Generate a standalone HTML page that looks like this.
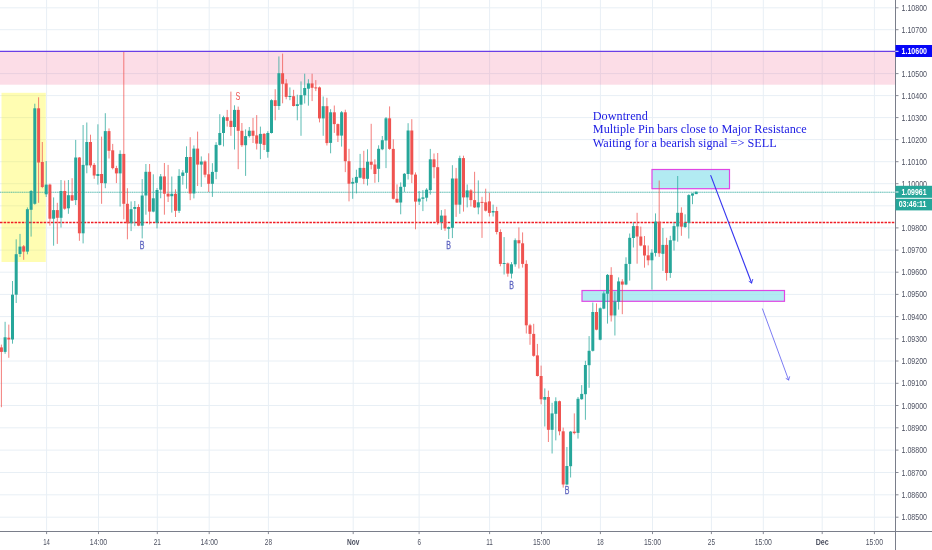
<!DOCTYPE html>
<html><head><meta charset="utf-8"><title>chart</title>
<style>html,body{margin:0;padding:0;background:#fff;overflow:hidden}svg{display:block;will-change:transform;opacity:0.9999}text{font-family:"Liberation Sans",sans-serif}</style></head><body>
<svg width="932" height="550" viewBox="0 0 932 550">
<rect width="932" height="550" fill="#ffffff"/>
<g stroke="#e8eff5" stroke-width="1">
<line x1="0" y1="7.8" x2="894.5" y2="7.8"/>
<line x1="0" y1="29.7" x2="894.5" y2="29.7"/>
<line x1="0" y1="51.6" x2="894.5" y2="51.6"/>
<line x1="0" y1="73.6" x2="894.5" y2="73.6"/>
<line x1="0" y1="95.6" x2="894.5" y2="95.6"/>
<line x1="0" y1="117.6" x2="894.5" y2="117.6"/>
<line x1="0" y1="139.6" x2="894.5" y2="139.6"/>
<line x1="0" y1="161.7" x2="894.5" y2="161.7"/>
<line x1="0" y1="183.7" x2="894.5" y2="183.7"/>
<line x1="0" y1="205.8" x2="894.5" y2="205.8"/>
<line x1="0" y1="227.9" x2="894.5" y2="227.9"/>
<line x1="0" y1="250.1" x2="894.5" y2="250.1"/>
<line x1="0" y1="272.2" x2="894.5" y2="272.2"/>
<line x1="0" y1="294.4" x2="894.5" y2="294.4"/>
<line x1="0" y1="316.6" x2="894.5" y2="316.6"/>
<line x1="0" y1="338.8" x2="894.5" y2="338.8"/>
<line x1="0" y1="361.0" x2="894.5" y2="361.0"/>
<line x1="0" y1="383.3" x2="894.5" y2="383.3"/>
<line x1="0" y1="405.5" x2="894.5" y2="405.5"/>
<line x1="0" y1="427.8" x2="894.5" y2="427.8"/>
<line x1="0" y1="450.1" x2="894.5" y2="450.1"/>
<line x1="0" y1="472.5" x2="894.5" y2="472.5"/>
<line x1="0" y1="494.8" x2="894.5" y2="494.8"/>
<line x1="0" y1="517.2" x2="894.5" y2="517.2"/>
<line x1="46.6" y1="0" x2="46.6" y2="530.5"/>
<line x1="98.5" y1="0" x2="98.5" y2="530.5"/>
<line x1="157.3" y1="0" x2="157.3" y2="530.5"/>
<line x1="209.2" y1="0" x2="209.2" y2="530.5"/>
<line x1="268.4" y1="0" x2="268.4" y2="530.5"/>
<line x1="353.2" y1="0" x2="353.2" y2="530.5"/>
<line x1="419.1" y1="0" x2="419.1" y2="530.5"/>
<line x1="489.6" y1="0" x2="489.6" y2="530.5"/>
<line x1="541.5" y1="0" x2="541.5" y2="530.5"/>
<line x1="600.4" y1="0" x2="600.4" y2="530.5"/>
<line x1="652.5" y1="0" x2="652.5" y2="530.5"/>
<line x1="711.4" y1="0" x2="711.4" y2="530.5"/>
<line x1="763.3" y1="0" x2="763.3" y2="530.5"/>
<line x1="822.2" y1="0" x2="822.2" y2="530.5"/>
<line x1="874.4" y1="0" x2="874.4" y2="530.5"/>
</g>
<rect x="0" y="51.5" width="895" height="33.2" fill="rgb(240,98,146)" fill-opacity="0.22"/>
<rect x="1.5" y="92.8" width="44.3" height="169.2" fill="rgb(255,248,0)" fill-opacity="0.30"/>
<rect x="652" y="169.5" width="77.5" height="19.2" fill="rgb(159,230,239)" fill-opacity="0.8" stroke="#e046e4" stroke-width="1.2"/>
<rect x="582" y="290.5" width="202.5" height="10.8" fill="rgb(159,230,239)" fill-opacity="0.8" stroke="#e046e4" stroke-width="1.2"/>
<line x1="0" y1="51.3" x2="895" y2="51.3" stroke="#6a3fe6" stroke-width="1.3"/>
<line x1="0" y1="192.3" x2="895" y2="192.3" stroke="#26a69a" stroke-width="1.1" opacity="0.38"/>
<line x1="0" y1="192.3" x2="895" y2="192.3" stroke="#26a69a" stroke-width="1.1" stroke-dasharray="1 1.2" opacity="0.5"/>
<line x1="0" y1="222.5" x2="895" y2="222.5" stroke="#f01c24" stroke-width="1.65" stroke-dasharray="2.5 1.14"/>
<g id="candles">
<line x1="1.4" y1="344.6" x2="1.4" y2="407.2" stroke="#ef5350" stroke-width="1" opacity="0.75"/>
<rect x="-0.1" y="347.4" width="3" height="4.5" fill="#ef5350"/>
<line x1="5.1" y1="321.8" x2="5.1" y2="353.8" stroke="#26a69a" stroke-width="1" opacity="0.75"/>
<rect x="3.6" y="337.3" width="3" height="14.6" fill="#26a69a"/>
<line x1="8.8" y1="324.6" x2="8.8" y2="357.8" stroke="#ef5350" stroke-width="1" opacity="0.75"/>
<rect x="7.3" y="337.7" width="3" height="1.8" fill="#ef5350"/>
<line x1="12.5" y1="281.0" x2="12.5" y2="343.7" stroke="#26a69a" stroke-width="1" opacity="0.75"/>
<rect x="11.0" y="294.7" width="3" height="44.8" fill="#26a69a"/>
<line x1="16.2" y1="239.3" x2="16.2" y2="303.0" stroke="#26a69a" stroke-width="1" opacity="0.75"/>
<rect x="14.7" y="254.2" width="3" height="40.5" fill="#26a69a"/>
<line x1="20.0" y1="233.9" x2="20.0" y2="257.0" stroke="#26a69a" stroke-width="1" opacity="0.75"/>
<rect x="18.5" y="246.6" width="3" height="7.4" fill="#26a69a"/>
<line x1="23.7" y1="245.0" x2="23.7" y2="259.8" stroke="#ef5350" stroke-width="1" opacity="0.75"/>
<rect x="22.2" y="246.3" width="3" height="5.3" fill="#ef5350"/>
<line x1="27.4" y1="207.4" x2="27.4" y2="254.3" stroke="#26a69a" stroke-width="1" opacity="0.75"/>
<rect x="25.9" y="209.2" width="3" height="42.4" fill="#26a69a"/>
<line x1="31.1" y1="190.0" x2="31.1" y2="236.6" stroke="#26a69a" stroke-width="1" opacity="0.75"/>
<rect x="29.6" y="191.0" width="3" height="18.8" fill="#26a69a"/>
<line x1="34.8" y1="103.7" x2="34.8" y2="204.7" stroke="#26a69a" stroke-width="1" opacity="0.75"/>
<rect x="33.3" y="108.3" width="3" height="95.5" fill="#26a69a"/>
<line x1="38.6" y1="97.3" x2="38.6" y2="202.8" stroke="#ef5350" stroke-width="1" opacity="0.75"/>
<rect x="37.1" y="108.3" width="3" height="54.2" fill="#ef5350"/>
<line x1="42.3" y1="142.0" x2="42.3" y2="188.2" stroke="#ef5350" stroke-width="1" opacity="0.75"/>
<rect x="40.8" y="162.0" width="3" height="25.0" fill="#ef5350"/>
<line x1="46.2" y1="161.0" x2="46.2" y2="197.0" stroke="#26a69a" stroke-width="1" opacity="0.75"/>
<rect x="44.7" y="184.6" width="3" height="9.7" fill="#26a69a"/>
<line x1="49.9" y1="183.7" x2="49.9" y2="225.7" stroke="#ef5350" stroke-width="1" opacity="0.75"/>
<rect x="48.4" y="184.6" width="3" height="34.1" fill="#ef5350"/>
<line x1="53.6" y1="197.4" x2="53.6" y2="245.7" stroke="#26a69a" stroke-width="1" opacity="0.75"/>
<rect x="52.1" y="210.1" width="3" height="8.6" fill="#26a69a"/>
<line x1="57.3" y1="202.8" x2="57.3" y2="243.9" stroke="#ef5350" stroke-width="1" opacity="0.75"/>
<rect x="55.8" y="210.1" width="3" height="7.7" fill="#ef5350"/>
<line x1="61.0" y1="180.0" x2="61.0" y2="227.5" stroke="#26a69a" stroke-width="1" opacity="0.75"/>
<rect x="59.5" y="191.0" width="3" height="26.8" fill="#26a69a"/>
<line x1="64.7" y1="180.6" x2="64.7" y2="209.8" stroke="#ef5350" stroke-width="1" opacity="0.75"/>
<rect x="63.2" y="191.0" width="3" height="17.7" fill="#ef5350"/>
<line x1="68.4" y1="180.0" x2="68.4" y2="213.8" stroke="#26a69a" stroke-width="1" opacity="0.75"/>
<rect x="66.9" y="195.2" width="3" height="13.1" fill="#26a69a"/>
<line x1="72.1" y1="178.2" x2="72.1" y2="201.0" stroke="#ef5350" stroke-width="1" opacity="0.75"/>
<rect x="70.6" y="195.2" width="3" height="5.3" fill="#ef5350"/>
<line x1="75.7" y1="139.9" x2="75.7" y2="205.0" stroke="#26a69a" stroke-width="1" opacity="0.75"/>
<rect x="74.2" y="157.5" width="3" height="42.6" fill="#26a69a"/>
<line x1="79.4" y1="157.0" x2="79.4" y2="240.8" stroke="#ef5350" stroke-width="1" opacity="0.75"/>
<rect x="77.9" y="157.5" width="3" height="75.8" fill="#ef5350"/>
<line x1="83.1" y1="125.0" x2="83.1" y2="243.4" stroke="#26a69a" stroke-width="1" opacity="0.75"/>
<rect x="81.6" y="164.9" width="3" height="68.4" fill="#26a69a"/>
<line x1="86.8" y1="122.5" x2="86.8" y2="173.3" stroke="#26a69a" stroke-width="1" opacity="0.75"/>
<rect x="85.3" y="142.0" width="3" height="23.4" fill="#26a69a"/>
<line x1="90.5" y1="134.7" x2="90.5" y2="167.6" stroke="#ef5350" stroke-width="1" opacity="0.75"/>
<rect x="89.0" y="142.0" width="3" height="23.4" fill="#ef5350"/>
<line x1="94.2" y1="163.0" x2="94.2" y2="178.8" stroke="#ef5350" stroke-width="1" opacity="0.75"/>
<rect x="92.7" y="164.9" width="3" height="10.6" fill="#ef5350"/>
<line x1="97.9" y1="124.3" x2="97.9" y2="184.6" stroke="#26a69a" stroke-width="1" opacity="0.75"/>
<rect x="96.4" y="174.0" width="3" height="2.0" fill="#26a69a"/>
<line x1="101.6" y1="136.6" x2="101.6" y2="203.8" stroke="#ef5350" stroke-width="1" opacity="0.75"/>
<rect x="100.1" y="174.0" width="3" height="9.1" fill="#ef5350"/>
<line x1="105.3" y1="113.2" x2="105.3" y2="188.2" stroke="#26a69a" stroke-width="1" opacity="0.75"/>
<rect x="103.8" y="131.1" width="3" height="52.2" fill="#26a69a"/>
<line x1="109.0" y1="128.4" x2="109.0" y2="158.5" stroke="#ef5350" stroke-width="1" opacity="0.75"/>
<rect x="107.5" y="131.1" width="3" height="19.7" fill="#ef5350"/>
<line x1="112.7" y1="143.9" x2="112.7" y2="169.4" stroke="#ef5350" stroke-width="1" opacity="0.75"/>
<rect x="111.2" y="150.3" width="3" height="17.8" fill="#ef5350"/>
<line x1="116.4" y1="165.8" x2="116.4" y2="183.1" stroke="#ef5350" stroke-width="1" opacity="0.75"/>
<rect x="114.9" y="168.1" width="3" height="5.3" fill="#ef5350"/>
<line x1="120.1" y1="150.3" x2="120.1" y2="206.5" stroke="#26a69a" stroke-width="1" opacity="0.75"/>
<rect x="118.6" y="153.9" width="3" height="19.5" fill="#26a69a"/>
<line x1="123.8" y1="52.0" x2="123.8" y2="219.3" stroke="#ef5350" stroke-width="1" opacity="0.75"/>
<rect x="122.3" y="153.9" width="3" height="49.9" fill="#ef5350"/>
<line x1="127.4" y1="188.2" x2="127.4" y2="239.3" stroke="#ef5350" stroke-width="1" opacity="0.75"/>
<rect x="125.9" y="203.8" width="3" height="19.5" fill="#ef5350"/>
<line x1="131.1" y1="201.4" x2="131.1" y2="231.1" stroke="#26a69a" stroke-width="1" opacity="0.75"/>
<rect x="129.6" y="209.2" width="3" height="14.1" fill="#26a69a"/>
<line x1="134.8" y1="201.0" x2="134.8" y2="226.2" stroke="#26a69a" stroke-width="1" opacity="0.75"/>
<rect x="133.3" y="207.0" width="3" height="1.9" fill="#26a69a"/>
<line x1="138.5" y1="204.3" x2="138.5" y2="226.2" stroke="#ef5350" stroke-width="1" opacity="0.75"/>
<rect x="137.0" y="207.0" width="3" height="18.7" fill="#ef5350"/>
<line x1="142.2" y1="179.1" x2="142.2" y2="238.4" stroke="#26a69a" stroke-width="1" opacity="0.75"/>
<rect x="140.7" y="195.5" width="3" height="30.2" fill="#26a69a"/>
<line x1="145.9" y1="164.0" x2="145.9" y2="214.7" stroke="#26a69a" stroke-width="1" opacity="0.75"/>
<rect x="144.4" y="171.8" width="3" height="23.7" fill="#26a69a"/>
<line x1="149.6" y1="164.0" x2="149.6" y2="224.4" stroke="#ef5350" stroke-width="1" opacity="0.75"/>
<rect x="148.1" y="171.8" width="3" height="39.8" fill="#ef5350"/>
<line x1="153.3" y1="174.3" x2="153.3" y2="212.3" stroke="#26a69a" stroke-width="1" opacity="0.75"/>
<rect x="151.8" y="198.3" width="3" height="13.3" fill="#26a69a"/>
<line x1="157.0" y1="188.0" x2="157.0" y2="228.4" stroke="#26a69a" stroke-width="1" opacity="0.75"/>
<rect x="155.5" y="190.0" width="3" height="32.9" fill="#26a69a"/>
<line x1="160.7" y1="174.0" x2="160.7" y2="198.3" stroke="#26a69a" stroke-width="1" opacity="0.75"/>
<rect x="159.2" y="176.4" width="3" height="13.3" fill="#26a69a"/>
<line x1="164.4" y1="163.0" x2="164.4" y2="214.7" stroke="#ef5350" stroke-width="1" opacity="0.75"/>
<rect x="162.9" y="176.4" width="3" height="17.3" fill="#ef5350"/>
<line x1="168.1" y1="164.9" x2="168.1" y2="202.0" stroke="#ef5350" stroke-width="1" opacity="0.75"/>
<rect x="166.6" y="193.7" width="3" height="2.8" fill="#ef5350"/>
<line x1="171.8" y1="176.5" x2="171.8" y2="212.6" stroke="#26a69a" stroke-width="1" opacity="0.75"/>
<rect x="170.3" y="193.8" width="3" height="2.4" fill="#26a69a"/>
<line x1="175.5" y1="189.3" x2="175.5" y2="217.0" stroke="#ef5350" stroke-width="1" opacity="0.75"/>
<rect x="174.0" y="193.8" width="3" height="17.0" fill="#ef5350"/>
<line x1="179.1" y1="169.2" x2="179.1" y2="213.0" stroke="#26a69a" stroke-width="1" opacity="0.75"/>
<rect x="177.6" y="175.9" width="3" height="34.9" fill="#26a69a"/>
<line x1="182.8" y1="170.1" x2="182.8" y2="184.7" stroke="#26a69a" stroke-width="1" opacity="0.75"/>
<rect x="181.3" y="172.5" width="3" height="3.4" fill="#26a69a"/>
<line x1="186.5" y1="146.3" x2="186.5" y2="188.7" stroke="#26a69a" stroke-width="1" opacity="0.75"/>
<rect x="185.0" y="157.0" width="3" height="15.8" fill="#26a69a"/>
<line x1="190.2" y1="137.2" x2="190.2" y2="200.2" stroke="#ef5350" stroke-width="1" opacity="0.75"/>
<rect x="188.7" y="157.0" width="3" height="36.5" fill="#ef5350"/>
<line x1="193.9" y1="145.4" x2="193.9" y2="198.4" stroke="#26a69a" stroke-width="1" opacity="0.75"/>
<rect x="192.4" y="148.6" width="3" height="44.9" fill="#26a69a"/>
<line x1="197.6" y1="131.6" x2="197.6" y2="186.0" stroke="#ef5350" stroke-width="1" opacity="0.75"/>
<rect x="196.1" y="148.6" width="3" height="16.0" fill="#ef5350"/>
<line x1="201.3" y1="156.4" x2="201.3" y2="186.9" stroke="#26a69a" stroke-width="1" opacity="0.75"/>
<rect x="199.8" y="161.5" width="3" height="3.1" fill="#26a69a"/>
<line x1="205.0" y1="160.4" x2="205.0" y2="177.4" stroke="#ef5350" stroke-width="1" opacity="0.75"/>
<rect x="203.5" y="161.5" width="3" height="13.2" fill="#ef5350"/>
<line x1="208.7" y1="153.3" x2="208.7" y2="192.0" stroke="#ef5350" stroke-width="1" opacity="0.75"/>
<rect x="207.2" y="174.3" width="3" height="9.5" fill="#ef5350"/>
<line x1="212.4" y1="163.2" x2="212.4" y2="196.9" stroke="#26a69a" stroke-width="1" opacity="0.75"/>
<rect x="210.9" y="171.9" width="3" height="11.9" fill="#26a69a"/>
<line x1="216.1" y1="142.2" x2="216.1" y2="179.2" stroke="#26a69a" stroke-width="1" opacity="0.75"/>
<rect x="214.6" y="144.9" width="3" height="27.0" fill="#26a69a"/>
<line x1="219.8" y1="114.2" x2="219.8" y2="145.5" stroke="#26a69a" stroke-width="1" opacity="0.75"/>
<rect x="218.3" y="133.0" width="3" height="11.9" fill="#26a69a"/>
<line x1="223.5" y1="115.7" x2="223.5" y2="146.4" stroke="#26a69a" stroke-width="1" opacity="0.75"/>
<rect x="222.0" y="117.2" width="3" height="15.8" fill="#26a69a"/>
<line x1="227.2" y1="109.9" x2="227.2" y2="126.6" stroke="#ef5350" stroke-width="1" opacity="0.75"/>
<rect x="225.7" y="117.2" width="3" height="3.6" fill="#ef5350"/>
<line x1="230.9" y1="91.6" x2="230.9" y2="135.8" stroke="#ef5350" stroke-width="1" opacity="0.75"/>
<rect x="229.4" y="120.8" width="3" height="6.2" fill="#ef5350"/>
<line x1="234.5" y1="105.3" x2="234.5" y2="149.5" stroke="#26a69a" stroke-width="1" opacity="0.75"/>
<rect x="233.0" y="109.9" width="3" height="17.1" fill="#26a69a"/>
<line x1="238.2" y1="106.6" x2="238.2" y2="169.2" stroke="#ef5350" stroke-width="1" opacity="0.75"/>
<rect x="236.7" y="109.9" width="3" height="20.9" fill="#ef5350"/>
<line x1="241.9" y1="123.0" x2="241.9" y2="146.9" stroke="#ef5350" stroke-width="1" opacity="0.75"/>
<rect x="240.4" y="130.8" width="3" height="14.4" fill="#ef5350"/>
<line x1="245.6" y1="129.4" x2="245.6" y2="175.9" stroke="#26a69a" stroke-width="1" opacity="0.75"/>
<rect x="244.1" y="136.1" width="3" height="9.1" fill="#26a69a"/>
<line x1="249.3" y1="127.0" x2="249.3" y2="137.6" stroke="#26a69a" stroke-width="1" opacity="0.75"/>
<rect x="247.8" y="130.7" width="3" height="5.4" fill="#26a69a"/>
<line x1="253.0" y1="117.9" x2="253.0" y2="143.0" stroke="#ef5350" stroke-width="1" opacity="0.75"/>
<rect x="251.5" y="130.7" width="3" height="5.1" fill="#ef5350"/>
<line x1="256.7" y1="115.1" x2="256.7" y2="149.5" stroke="#ef5350" stroke-width="1" opacity="0.75"/>
<rect x="255.2" y="135.4" width="3" height="8.2" fill="#ef5350"/>
<line x1="260.4" y1="126.6" x2="260.4" y2="159.2" stroke="#26a69a" stroke-width="1" opacity="0.75"/>
<rect x="258.9" y="133.9" width="3" height="9.9" fill="#26a69a"/>
<line x1="264.1" y1="133.0" x2="264.1" y2="150.0" stroke="#ef5350" stroke-width="1" opacity="0.75"/>
<rect x="262.6" y="133.9" width="3" height="11.0" fill="#ef5350"/>
<line x1="267.8" y1="131.2" x2="267.8" y2="157.7" stroke="#26a69a" stroke-width="1" opacity="0.75"/>
<rect x="266.3" y="133.0" width="3" height="18.9" fill="#26a69a"/>
<line x1="271.5" y1="99.3" x2="271.5" y2="133.5" stroke="#26a69a" stroke-width="1" opacity="0.75"/>
<rect x="270.0" y="100.2" width="3" height="32.8" fill="#26a69a"/>
<line x1="275.2" y1="89.2" x2="275.2" y2="120.3" stroke="#ef5350" stroke-width="1" opacity="0.75"/>
<rect x="273.7" y="100.2" width="3" height="5.8" fill="#ef5350"/>
<line x1="278.9" y1="56.4" x2="278.9" y2="109.9" stroke="#26a69a" stroke-width="1" opacity="0.75"/>
<rect x="277.4" y="73.2" width="3" height="32.8" fill="#26a69a"/>
<line x1="282.6" y1="53.6" x2="282.6" y2="103.3" stroke="#ef5350" stroke-width="1" opacity="0.75"/>
<rect x="281.1" y="73.2" width="3" height="10.6" fill="#ef5350"/>
<line x1="286.2" y1="79.2" x2="286.2" y2="99.3" stroke="#ef5350" stroke-width="1" opacity="0.75"/>
<rect x="284.7" y="83.4" width="3" height="13.5" fill="#ef5350"/>
<line x1="289.9" y1="87.4" x2="289.9" y2="100.2" stroke="#26a69a" stroke-width="1" opacity="0.75"/>
<rect x="288.4" y="96.0" width="3" height="1.0" fill="#26a69a"/>
<line x1="293.6" y1="89.8" x2="293.6" y2="106.5" stroke="#ef5350" stroke-width="1" opacity="0.75"/>
<rect x="292.1" y="96.2" width="3" height="9.8" fill="#ef5350"/>
<line x1="297.3" y1="94.7" x2="297.3" y2="120.3" stroke="#26a69a" stroke-width="1" opacity="0.75"/>
<rect x="295.8" y="104.2" width="3" height="1.8" fill="#26a69a"/>
<line x1="301.0" y1="81.4" x2="301.0" y2="135.8" stroke="#26a69a" stroke-width="1" opacity="0.75"/>
<rect x="299.5" y="95.1" width="3" height="9.6" fill="#26a69a"/>
<line x1="304.7" y1="73.7" x2="304.7" y2="103.5" stroke="#26a69a" stroke-width="1" opacity="0.75"/>
<rect x="303.2" y="88.0" width="3" height="7.3" fill="#26a69a"/>
<line x1="308.4" y1="79.2" x2="308.4" y2="105.7" stroke="#26a69a" stroke-width="1" opacity="0.75"/>
<rect x="306.9" y="83.4" width="3" height="5.3" fill="#26a69a"/>
<line x1="312.1" y1="73.7" x2="312.1" y2="101.1" stroke="#ef5350" stroke-width="1" opacity="0.75"/>
<rect x="310.6" y="83.4" width="3" height="4.4" fill="#ef5350"/>
<line x1="315.8" y1="80.1" x2="315.8" y2="91.1" stroke="#ef5350" stroke-width="1" opacity="0.75"/>
<rect x="314.3" y="87.4" width="3" height="1.0" fill="#ef5350"/>
<line x1="319.5" y1="86.5" x2="319.5" y2="122.4" stroke="#ef5350" stroke-width="1" opacity="0.75"/>
<rect x="318.0" y="87.4" width="3" height="31.0" fill="#ef5350"/>
<line x1="323.2" y1="96.5" x2="323.2" y2="135.8" stroke="#26a69a" stroke-width="1" opacity="0.75"/>
<rect x="321.7" y="106.2" width="3" height="12.2" fill="#26a69a"/>
<line x1="326.9" y1="97.8" x2="326.9" y2="145.5" stroke="#ef5350" stroke-width="1" opacity="0.75"/>
<rect x="325.4" y="106.2" width="3" height="36.9" fill="#ef5350"/>
<line x1="330.6" y1="109.2" x2="330.6" y2="153.3" stroke="#26a69a" stroke-width="1" opacity="0.75"/>
<rect x="329.1" y="112.3" width="3" height="30.6" fill="#26a69a"/>
<line x1="334.3" y1="105.5" x2="334.3" y2="132.9" stroke="#ef5350" stroke-width="1" opacity="0.75"/>
<rect x="332.8" y="112.3" width="3" height="11.8" fill="#ef5350"/>
<line x1="337.9" y1="123.5" x2="337.9" y2="142.0" stroke="#ef5350" stroke-width="1" opacity="0.75"/>
<rect x="336.4" y="124.1" width="3" height="11.5" fill="#ef5350"/>
<line x1="341.6" y1="111.0" x2="341.6" y2="146.6" stroke="#26a69a" stroke-width="1" opacity="0.75"/>
<rect x="340.1" y="112.3" width="3" height="23.3" fill="#26a69a"/>
<line x1="345.3" y1="109.7" x2="345.3" y2="172.1" stroke="#ef5350" stroke-width="1" opacity="0.75"/>
<rect x="343.8" y="112.3" width="3" height="48.9" fill="#ef5350"/>
<line x1="349.0" y1="148.8" x2="349.0" y2="201.4" stroke="#ef5350" stroke-width="1" opacity="0.75"/>
<rect x="347.5" y="161.2" width="3" height="22.5" fill="#ef5350"/>
<line x1="352.7" y1="177.8" x2="352.7" y2="198.8" stroke="#26a69a" stroke-width="1" opacity="0.75"/>
<rect x="351.2" y="181.9" width="3" height="1.8" fill="#26a69a"/>
<line x1="356.4" y1="169.7" x2="356.4" y2="193.4" stroke="#26a69a" stroke-width="1" opacity="0.75"/>
<rect x="354.9" y="176.9" width="3" height="5.9" fill="#26a69a"/>
<line x1="360.1" y1="153.9" x2="360.1" y2="178.3" stroke="#26a69a" stroke-width="1" opacity="0.75"/>
<rect x="358.6" y="167.9" width="3" height="9.8" fill="#26a69a"/>
<line x1="363.8" y1="150.8" x2="363.8" y2="184.2" stroke="#ef5350" stroke-width="1" opacity="0.75"/>
<rect x="362.3" y="167.9" width="3" height="10.9" fill="#ef5350"/>
<line x1="367.5" y1="149.3" x2="367.5" y2="185.5" stroke="#26a69a" stroke-width="1" opacity="0.75"/>
<rect x="366.0" y="161.7" width="3" height="17.1" fill="#26a69a"/>
<line x1="371.2" y1="123.8" x2="371.2" y2="169.4" stroke="#ef5350" stroke-width="1" opacity="0.75"/>
<rect x="369.7" y="161.7" width="3" height="3.1" fill="#ef5350"/>
<line x1="374.9" y1="159.3" x2="374.9" y2="182.8" stroke="#ef5350" stroke-width="1" opacity="0.75"/>
<rect x="373.4" y="164.5" width="3" height="9.5" fill="#ef5350"/>
<line x1="378.6" y1="145.3" x2="378.6" y2="182.2" stroke="#26a69a" stroke-width="1" opacity="0.75"/>
<rect x="377.1" y="148.8" width="3" height="20.0" fill="#26a69a"/>
<line x1="382.3" y1="136.0" x2="382.3" y2="150.2" stroke="#26a69a" stroke-width="1" opacity="0.75"/>
<rect x="380.8" y="140.2" width="3" height="9.1" fill="#26a69a"/>
<line x1="386.0" y1="117.0" x2="386.0" y2="168.1" stroke="#26a69a" stroke-width="1" opacity="0.75"/>
<rect x="384.5" y="118.3" width="3" height="22.2" fill="#26a69a"/>
<line x1="389.6" y1="106.4" x2="389.6" y2="149.8" stroke="#ef5350" stroke-width="1" opacity="0.75"/>
<rect x="388.1" y="118.3" width="3" height="30.6" fill="#ef5350"/>
<line x1="393.3" y1="139.3" x2="393.3" y2="199.5" stroke="#ef5350" stroke-width="1" opacity="0.75"/>
<rect x="391.8" y="148.9" width="3" height="49.9" fill="#ef5350"/>
<line x1="397.0" y1="184.4" x2="397.0" y2="203.0" stroke="#ef5350" stroke-width="1" opacity="0.75"/>
<rect x="395.5" y="198.8" width="3" height="3.7" fill="#ef5350"/>
<line x1="400.7" y1="182.4" x2="400.7" y2="214.3" stroke="#26a69a" stroke-width="1" opacity="0.75"/>
<rect x="399.2" y="186.8" width="3" height="15.7" fill="#26a69a"/>
<line x1="404.4" y1="173.0" x2="404.4" y2="191.9" stroke="#26a69a" stroke-width="1" opacity="0.75"/>
<rect x="402.9" y="173.8" width="3" height="13.0" fill="#26a69a"/>
<line x1="408.1" y1="123.2" x2="408.1" y2="179.5" stroke="#26a69a" stroke-width="1" opacity="0.75"/>
<rect x="406.6" y="130.5" width="3" height="43.5" fill="#26a69a"/>
<line x1="411.8" y1="119.2" x2="411.8" y2="183.1" stroke="#ef5350" stroke-width="1" opacity="0.75"/>
<rect x="410.3" y="130.5" width="3" height="44.1" fill="#ef5350"/>
<line x1="415.5" y1="172.4" x2="415.5" y2="229.3" stroke="#ef5350" stroke-width="1" opacity="0.75"/>
<rect x="414.0" y="174.6" width="3" height="27.0" fill="#ef5350"/>
<line x1="419.2" y1="191.0" x2="419.2" y2="205.0" stroke="#26a69a" stroke-width="1" opacity="0.75"/>
<rect x="417.7" y="198.6" width="3" height="3.0" fill="#26a69a"/>
<line x1="422.9" y1="190.1" x2="422.9" y2="211.1" stroke="#26a69a" stroke-width="1" opacity="0.75"/>
<rect x="421.4" y="197.4" width="3" height="1.4" fill="#26a69a"/>
<line x1="426.6" y1="188.2" x2="426.6" y2="201.4" stroke="#26a69a" stroke-width="1" opacity="0.75"/>
<rect x="425.1" y="189.7" width="3" height="8.0" fill="#26a69a"/>
<line x1="430.3" y1="148.9" x2="430.3" y2="194.6" stroke="#26a69a" stroke-width="1" opacity="0.75"/>
<rect x="428.8" y="159.3" width="3" height="30.8" fill="#26a69a"/>
<line x1="434.0" y1="153.5" x2="434.0" y2="178.3" stroke="#ef5350" stroke-width="1" opacity="0.75"/>
<rect x="432.5" y="159.3" width="3" height="7.9" fill="#ef5350"/>
<line x1="437.7" y1="153.0" x2="437.7" y2="224.7" stroke="#ef5350" stroke-width="1" opacity="0.75"/>
<rect x="436.2" y="167.2" width="3" height="54.8" fill="#ef5350"/>
<line x1="441.4" y1="210.1" x2="441.4" y2="229.9" stroke="#26a69a" stroke-width="1" opacity="0.75"/>
<rect x="439.9" y="215.6" width="3" height="6.4" fill="#26a69a"/>
<line x1="445.0" y1="209.2" x2="445.0" y2="230.8" stroke="#ef5350" stroke-width="1" opacity="0.75"/>
<rect x="443.5" y="215.6" width="3" height="12.8" fill="#ef5350"/>
<line x1="448.7" y1="226.5" x2="448.7" y2="239.0" stroke="#26a69a" stroke-width="1" opacity="0.75"/>
<rect x="447.2" y="227.1" width="3" height="1.7" fill="#26a69a"/>
<line x1="452.4" y1="165.2" x2="452.4" y2="238.1" stroke="#26a69a" stroke-width="1" opacity="0.75"/>
<rect x="450.9" y="178.5" width="3" height="49.3" fill="#26a69a"/>
<line x1="456.1" y1="167.9" x2="456.1" y2="216.9" stroke="#ef5350" stroke-width="1" opacity="0.75"/>
<rect x="454.6" y="178.5" width="3" height="26.2" fill="#ef5350"/>
<line x1="459.8" y1="155.7" x2="459.8" y2="213.8" stroke="#26a69a" stroke-width="1" opacity="0.75"/>
<rect x="458.3" y="158.1" width="3" height="46.6" fill="#26a69a"/>
<line x1="463.5" y1="155.7" x2="463.5" y2="211.6" stroke="#ef5350" stroke-width="1" opacity="0.75"/>
<rect x="462.0" y="158.1" width="3" height="39.3" fill="#ef5350"/>
<line x1="467.2" y1="184.5" x2="467.2" y2="207.4" stroke="#26a69a" stroke-width="1" opacity="0.75"/>
<rect x="465.7" y="190.4" width="3" height="7.0" fill="#26a69a"/>
<line x1="470.9" y1="189.1" x2="470.9" y2="206.5" stroke="#ef5350" stroke-width="1" opacity="0.75"/>
<rect x="469.4" y="190.4" width="3" height="9.7" fill="#ef5350"/>
<line x1="474.6" y1="171.8" x2="474.6" y2="208.0" stroke="#ef5350" stroke-width="1" opacity="0.75"/>
<rect x="473.1" y="200.1" width="3" height="7.3" fill="#ef5350"/>
<line x1="478.3" y1="180.4" x2="478.3" y2="214.3" stroke="#26a69a" stroke-width="1" opacity="0.75"/>
<rect x="476.8" y="202.3" width="3" height="5.1" fill="#26a69a"/>
<line x1="482.0" y1="196.8" x2="482.0" y2="237.9" stroke="#ef5350" stroke-width="1" opacity="0.75"/>
<rect x="480.5" y="201.9" width="3" height="1.0" fill="#ef5350"/>
<line x1="485.7" y1="188.7" x2="485.7" y2="211.5" stroke="#ef5350" stroke-width="1" opacity="0.75"/>
<rect x="484.2" y="202.3" width="3" height="8.4" fill="#ef5350"/>
<line x1="489.4" y1="192.8" x2="489.4" y2="216.5" stroke="#ef5350" stroke-width="1" opacity="0.75"/>
<rect x="487.9" y="201.4" width="3" height="11.5" fill="#ef5350"/>
<line x1="493.1" y1="204.6" x2="493.1" y2="216.5" stroke="#26a69a" stroke-width="1" opacity="0.75"/>
<rect x="491.6" y="211.0" width="3" height="1.5" fill="#26a69a"/>
<line x1="496.7" y1="206.8" x2="496.7" y2="234.4" stroke="#ef5350" stroke-width="1" opacity="0.75"/>
<rect x="495.2" y="211.0" width="3" height="21.0" fill="#ef5350"/>
<line x1="500.4" y1="229.3" x2="500.4" y2="266.3" stroke="#ef5350" stroke-width="1" opacity="0.75"/>
<rect x="498.9" y="232.0" width="3" height="31.9" fill="#ef5350"/>
<line x1="504.1" y1="237.1" x2="504.1" y2="274.5" stroke="#26a69a" stroke-width="1" opacity="0.75"/>
<rect x="502.6" y="263.0" width="3" height="1.0" fill="#26a69a"/>
<line x1="507.8" y1="262.5" x2="507.8" y2="276.7" stroke="#ef5350" stroke-width="1" opacity="0.75"/>
<rect x="506.3" y="263.4" width="3" height="10.2" fill="#ef5350"/>
<line x1="511.5" y1="262.1" x2="511.5" y2="278.5" stroke="#26a69a" stroke-width="1" opacity="0.75"/>
<rect x="510.0" y="264.3" width="3" height="9.3" fill="#26a69a"/>
<line x1="515.2" y1="238.4" x2="515.2" y2="266.7" stroke="#26a69a" stroke-width="1" opacity="0.75"/>
<rect x="513.7" y="240.2" width="3" height="24.1" fill="#26a69a"/>
<line x1="518.9" y1="227.4" x2="518.9" y2="268.5" stroke="#ef5350" stroke-width="1" opacity="0.75"/>
<rect x="517.4" y="240.2" width="3" height="3.1" fill="#ef5350"/>
<line x1="522.6" y1="232.4" x2="522.6" y2="267.6" stroke="#ef5350" stroke-width="1" opacity="0.75"/>
<rect x="521.1" y="243.3" width="3" height="20.6" fill="#ef5350"/>
<line x1="526.3" y1="260.3" x2="526.3" y2="333.5" stroke="#ef5350" stroke-width="1" opacity="0.75"/>
<rect x="524.8" y="263.9" width="3" height="61.4" fill="#ef5350"/>
<line x1="530.0" y1="323.8" x2="530.0" y2="344.8" stroke="#ef5350" stroke-width="1" opacity="0.75"/>
<rect x="528.5" y="325.3" width="3" height="8.6" fill="#ef5350"/>
<line x1="533.7" y1="323.8" x2="533.7" y2="356.7" stroke="#ef5350" stroke-width="1" opacity="0.75"/>
<rect x="532.2" y="333.9" width="3" height="21.9" fill="#ef5350"/>
<line x1="537.4" y1="343.9" x2="537.4" y2="376.5" stroke="#ef5350" stroke-width="1" opacity="0.75"/>
<rect x="535.9" y="355.4" width="3" height="20.6" fill="#ef5350"/>
<line x1="541.1" y1="365.6" x2="541.1" y2="404.3" stroke="#ef5350" stroke-width="1" opacity="0.75"/>
<rect x="539.6" y="376.0" width="3" height="23.3" fill="#ef5350"/>
<line x1="544.8" y1="388.4" x2="544.8" y2="426.5" stroke="#26a69a" stroke-width="1" opacity="0.75"/>
<rect x="543.3" y="397.0" width="3" height="2.7" fill="#26a69a"/>
<line x1="548.4" y1="390.6" x2="548.4" y2="442.0" stroke="#ef5350" stroke-width="1" opacity="0.75"/>
<rect x="546.9" y="397.0" width="3" height="32.8" fill="#ef5350"/>
<line x1="552.1" y1="402.8" x2="552.1" y2="453.5" stroke="#26a69a" stroke-width="1" opacity="0.75"/>
<rect x="550.6" y="413.4" width="3" height="16.4" fill="#26a69a"/>
<line x1="555.8" y1="397.3" x2="555.8" y2="440.4" stroke="#26a69a" stroke-width="1" opacity="0.75"/>
<rect x="554.3" y="401.2" width="3" height="12.6" fill="#26a69a"/>
<line x1="559.5" y1="400.6" x2="559.5" y2="435.3" stroke="#ef5350" stroke-width="1" opacity="0.75"/>
<rect x="558.0" y="401.2" width="3" height="30.1" fill="#ef5350"/>
<line x1="563.2" y1="427.6" x2="563.2" y2="487.6" stroke="#ef5350" stroke-width="1" opacity="0.75"/>
<rect x="561.7" y="431.3" width="3" height="53.2" fill="#ef5350"/>
<line x1="566.9" y1="447.0" x2="566.9" y2="485.0" stroke="#26a69a" stroke-width="1" opacity="0.75"/>
<rect x="565.4" y="466.0" width="3" height="18.5" fill="#26a69a"/>
<line x1="570.6" y1="431.0" x2="570.6" y2="477.5" stroke="#26a69a" stroke-width="1" opacity="0.75"/>
<rect x="569.1" y="431.6" width="3" height="34.6" fill="#26a69a"/>
<line x1="574.3" y1="413.4" x2="574.3" y2="434.4" stroke="#ef5350" stroke-width="1" opacity="0.75"/>
<rect x="572.8" y="431.6" width="3" height="1.5" fill="#ef5350"/>
<line x1="578.0" y1="397.0" x2="578.0" y2="438.6" stroke="#26a69a" stroke-width="1" opacity="0.75"/>
<rect x="576.5" y="398.8" width="3" height="34.1" fill="#26a69a"/>
<line x1="581.7" y1="385.1" x2="581.7" y2="399.8" stroke="#26a69a" stroke-width="1" opacity="0.75"/>
<rect x="580.2" y="393.9" width="3" height="5.3" fill="#26a69a"/>
<line x1="585.4" y1="360.8" x2="585.4" y2="419.8" stroke="#26a69a" stroke-width="1" opacity="0.75"/>
<rect x="583.9" y="365.0" width="3" height="29.2" fill="#26a69a"/>
<line x1="589.1" y1="336.1" x2="589.1" y2="387.8" stroke="#26a69a" stroke-width="1" opacity="0.75"/>
<rect x="587.6" y="350.8" width="3" height="14.4" fill="#26a69a"/>
<line x1="592.8" y1="302.5" x2="592.8" y2="351.5" stroke="#26a69a" stroke-width="1" opacity="0.75"/>
<rect x="591.3" y="312.0" width="3" height="38.8" fill="#26a69a"/>
<line x1="596.5" y1="303.4" x2="596.5" y2="330.3" stroke="#ef5350" stroke-width="1" opacity="0.75"/>
<rect x="595.0" y="312.0" width="3" height="17.7" fill="#ef5350"/>
<line x1="600.2" y1="307.4" x2="600.2" y2="340.3" stroke="#26a69a" stroke-width="1" opacity="0.75"/>
<rect x="598.7" y="308.3" width="3" height="31.4" fill="#26a69a"/>
<line x1="603.8" y1="291.3" x2="603.8" y2="309.2" stroke="#26a69a" stroke-width="1" opacity="0.75"/>
<rect x="602.3" y="293.4" width="3" height="15.2" fill="#26a69a"/>
<line x1="607.5" y1="274.0" x2="607.5" y2="323.6" stroke="#26a69a" stroke-width="1" opacity="0.75"/>
<rect x="606.0" y="274.9" width="3" height="18.8" fill="#26a69a"/>
<line x1="611.2" y1="267.2" x2="611.2" y2="321.5" stroke="#ef5350" stroke-width="1" opacity="0.75"/>
<rect x="609.7" y="274.9" width="3" height="40.6" fill="#ef5350"/>
<line x1="614.9" y1="291.5" x2="614.9" y2="335.5" stroke="#26a69a" stroke-width="1" opacity="0.75"/>
<rect x="613.4" y="301.5" width="3" height="14.0" fill="#26a69a"/>
<line x1="618.6" y1="277.4" x2="618.6" y2="309.6" stroke="#26a69a" stroke-width="1" opacity="0.75"/>
<rect x="617.1" y="281.4" width="3" height="20.4" fill="#26a69a"/>
<line x1="622.3" y1="279.2" x2="622.3" y2="314.2" stroke="#ef5350" stroke-width="1" opacity="0.75"/>
<rect x="620.8" y="281.5" width="3" height="3.1" fill="#ef5350"/>
<line x1="626.0" y1="257.3" x2="626.0" y2="285.2" stroke="#26a69a" stroke-width="1" opacity="0.75"/>
<rect x="624.5" y="263.9" width="3" height="20.6" fill="#26a69a"/>
<line x1="629.7" y1="233.5" x2="629.7" y2="280.6" stroke="#26a69a" stroke-width="1" opacity="0.75"/>
<rect x="628.2" y="237.8" width="3" height="26.1" fill="#26a69a"/>
<line x1="633.4" y1="222.2" x2="633.4" y2="247.5" stroke="#26a69a" stroke-width="1" opacity="0.75"/>
<rect x="631.9" y="226.1" width="3" height="11.9" fill="#26a69a"/>
<line x1="637.1" y1="212.8" x2="637.1" y2="263.7" stroke="#ef5350" stroke-width="1" opacity="0.75"/>
<rect x="635.6" y="226.1" width="3" height="10.4" fill="#ef5350"/>
<line x1="640.8" y1="226.6" x2="640.8" y2="246.3" stroke="#ef5350" stroke-width="1" opacity="0.75"/>
<rect x="639.3" y="236.5" width="3" height="9.1" fill="#ef5350"/>
<line x1="644.5" y1="236.0" x2="644.5" y2="267.7" stroke="#ef5350" stroke-width="1" opacity="0.75"/>
<rect x="643.0" y="245.3" width="3" height="10.2" fill="#ef5350"/>
<line x1="648.2" y1="245.5" x2="648.2" y2="265.3" stroke="#ef5350" stroke-width="1" opacity="0.75"/>
<rect x="646.7" y="255.3" width="3" height="5.0" fill="#ef5350"/>
<line x1="651.9" y1="249.2" x2="651.9" y2="289.7" stroke="#26a69a" stroke-width="1" opacity="0.75"/>
<rect x="650.4" y="252.7" width="3" height="7.6" fill="#26a69a"/>
<line x1="655.5" y1="213.4" x2="655.5" y2="256.5" stroke="#26a69a" stroke-width="1" opacity="0.75"/>
<rect x="654.0" y="221.6" width="3" height="31.3" fill="#26a69a"/>
<line x1="659.2" y1="180.5" x2="659.2" y2="256.9" stroke="#ef5350" stroke-width="1" opacity="0.75"/>
<rect x="657.7" y="221.6" width="3" height="31.7" fill="#ef5350"/>
<line x1="662.9" y1="228.0" x2="662.9" y2="270.9" stroke="#26a69a" stroke-width="1" opacity="0.75"/>
<rect x="661.4" y="244.9" width="3" height="8.9" fill="#26a69a"/>
<line x1="666.6" y1="237.8" x2="666.6" y2="280.6" stroke="#ef5350" stroke-width="1" opacity="0.75"/>
<rect x="665.1" y="244.9" width="3" height="28.1" fill="#ef5350"/>
<line x1="670.3" y1="235.8" x2="670.3" y2="277.9" stroke="#26a69a" stroke-width="1" opacity="0.75"/>
<rect x="668.8" y="240.2" width="3" height="32.8" fill="#26a69a"/>
<line x1="674.0" y1="222.5" x2="674.0" y2="250.6" stroke="#26a69a" stroke-width="1" opacity="0.75"/>
<rect x="672.5" y="226.1" width="3" height="14.5" fill="#26a69a"/>
<line x1="677.7" y1="176.0" x2="677.7" y2="241.7" stroke="#26a69a" stroke-width="1" opacity="0.75"/>
<rect x="676.2" y="212.8" width="3" height="13.7" fill="#26a69a"/>
<line x1="681.4" y1="207.3" x2="681.4" y2="235.8" stroke="#ef5350" stroke-width="1" opacity="0.75"/>
<rect x="679.9" y="212.8" width="3" height="13.9" fill="#ef5350"/>
<line x1="685.1" y1="214.3" x2="685.1" y2="228.0" stroke="#26a69a" stroke-width="1" opacity="0.75"/>
<rect x="683.6" y="223.0" width="3" height="4.0" fill="#26a69a"/>
<line x1="688.8" y1="194.2" x2="688.8" y2="238.5" stroke="#26a69a" stroke-width="1" opacity="0.75"/>
<rect x="687.3" y="195.1" width="3" height="27.9" fill="#26a69a"/>
<line x1="692.5" y1="193.4" x2="692.5" y2="204.2" stroke="#26a69a" stroke-width="1" opacity="0.75"/>
<rect x="691.0" y="193.4" width="3" height="2.2" fill="#26a69a"/>
<line x1="696.2" y1="191.7" x2="696.2" y2="194.1" stroke="#26a69a" stroke-width="1" opacity="0.75"/>
<rect x="694.7" y="191.7" width="3" height="2.4" fill="#26a69a"/>
</g>
<g stroke="#3838f0" fill="none" stroke-linecap="round">
<line x1="710.8" y1="175.6" x2="751.6" y2="283" stroke-width="1.15"/>
<path d="M749.1 281.4 L751.6 283 L752.7 279.4" stroke-width="0.9"/>
</g>
<g stroke="#5a5af0" fill="none" stroke-linecap="round">
<line x1="762.5" y1="308.9" x2="788.6" y2="380" stroke-width="0.8"/>
<path d="M786.1 378.5 L788.6 380 L789.6 376.7" stroke-width="0.8"/>
</g>
<g font-size="12.22" fill="#2020e4" style="font-family:'Liberation Serif',serif">
<text x="592.8" y="119.8" style="font-family:'Liberation Serif',serif">Downtrend</text>
<text x="592.8" y="133.2" style="font-family:'Liberation Serif',serif">Multiple Pin bars close to Major Resistance</text>
<text x="592.8" y="146.8" style="font-family:'Liberation Serif',serif">Waiting for a bearish signal =&gt; SELL</text>
</g>
<text x="139.65" y="248.7" font-size="10.6" fill="#5d64c0" stroke="#5d64c0" stroke-width="0.3" textLength="4.7" lengthAdjust="spacingAndGlyphs">B</text>
<text x="446.35" y="249.0" font-size="10.6" fill="#5d64c0" stroke="#5d64c0" stroke-width="0.3" textLength="4.7" lengthAdjust="spacingAndGlyphs">B</text>
<text x="509.15" y="288.8" font-size="10.6" fill="#5d64c0" stroke="#5d64c0" stroke-width="0.3" textLength="4.7" lengthAdjust="spacingAndGlyphs">B</text>
<text x="564.65" y="494.3" font-size="10.6" fill="#5d64c0" stroke="#5d64c0" stroke-width="0.3" textLength="4.7" lengthAdjust="spacingAndGlyphs">B</text>
<text x="235.6" y="99.7" font-size="10.6" fill="#ef5350" textLength="4.8" lengthAdjust="spacingAndGlyphs">S</text>
<rect x="895.5" y="0" width="36.5" height="550" fill="#fff"/>
<rect x="0" y="531.5" width="932" height="18.5" fill="#fff"/>
<line x1="895.5" y1="0" x2="895.5" y2="550" stroke="#7a7e8a" stroke-width="1"/>
<line x1="0" y1="531.5" x2="932" y2="531.5" stroke="#7a7e8a" stroke-width="1"/>
<g font-size="9.6" fill="#4e5262">
<line x1="895.5" y1="7.8" x2="898.5" y2="7.8" stroke="#7a7e8a" stroke-width="0.9"/>
<text x="901.5" y="10.8" textLength="25.5" lengthAdjust="spacingAndGlyphs">1.10800</text>
<line x1="895.5" y1="29.7" x2="898.5" y2="29.7" stroke="#7a7e8a" stroke-width="0.9"/>
<text x="901.5" y="32.7" textLength="25.5" lengthAdjust="spacingAndGlyphs">1.10700</text>
<line x1="895.5" y1="51.6" x2="898.5" y2="51.6" stroke="#7a7e8a" stroke-width="0.9"/>
<text x="901.5" y="54.6" textLength="25.5" lengthAdjust="spacingAndGlyphs">1.10600</text>
<line x1="895.5" y1="73.6" x2="898.5" y2="73.6" stroke="#7a7e8a" stroke-width="0.9"/>
<text x="901.5" y="76.6" textLength="25.5" lengthAdjust="spacingAndGlyphs">1.10500</text>
<line x1="895.5" y1="95.6" x2="898.5" y2="95.6" stroke="#7a7e8a" stroke-width="0.9"/>
<text x="901.5" y="98.6" textLength="25.5" lengthAdjust="spacingAndGlyphs">1.10400</text>
<line x1="895.5" y1="117.6" x2="898.5" y2="117.6" stroke="#7a7e8a" stroke-width="0.9"/>
<text x="901.5" y="120.6" textLength="25.5" lengthAdjust="spacingAndGlyphs">1.10300</text>
<line x1="895.5" y1="139.6" x2="898.5" y2="139.6" stroke="#7a7e8a" stroke-width="0.9"/>
<text x="901.5" y="142.6" textLength="25.5" lengthAdjust="spacingAndGlyphs">1.10200</text>
<line x1="895.5" y1="161.7" x2="898.5" y2="161.7" stroke="#7a7e8a" stroke-width="0.9"/>
<text x="901.5" y="164.7" textLength="25.5" lengthAdjust="spacingAndGlyphs">1.10100</text>
<line x1="895.5" y1="183.7" x2="898.5" y2="183.7" stroke="#7a7e8a" stroke-width="0.9"/>
<text x="901.5" y="186.7" textLength="25.5" lengthAdjust="spacingAndGlyphs">1.10000</text>
<line x1="895.5" y1="205.8" x2="898.5" y2="205.8" stroke="#7a7e8a" stroke-width="0.9"/>
<text x="901.5" y="208.8" textLength="25.5" lengthAdjust="spacingAndGlyphs">1.09900</text>
<line x1="895.5" y1="227.9" x2="898.5" y2="227.9" stroke="#7a7e8a" stroke-width="0.9"/>
<text x="901.5" y="230.9" textLength="25.5" lengthAdjust="spacingAndGlyphs">1.09800</text>
<line x1="895.5" y1="250.1" x2="898.5" y2="250.1" stroke="#7a7e8a" stroke-width="0.9"/>
<text x="901.5" y="253.1" textLength="25.5" lengthAdjust="spacingAndGlyphs">1.09700</text>
<line x1="895.5" y1="272.2" x2="898.5" y2="272.2" stroke="#7a7e8a" stroke-width="0.9"/>
<text x="901.5" y="275.2" textLength="25.5" lengthAdjust="spacingAndGlyphs">1.09600</text>
<line x1="895.5" y1="294.4" x2="898.5" y2="294.4" stroke="#7a7e8a" stroke-width="0.9"/>
<text x="901.5" y="297.4" textLength="25.5" lengthAdjust="spacingAndGlyphs">1.09500</text>
<line x1="895.5" y1="316.6" x2="898.5" y2="316.6" stroke="#7a7e8a" stroke-width="0.9"/>
<text x="901.5" y="319.6" textLength="25.5" lengthAdjust="spacingAndGlyphs">1.09400</text>
<line x1="895.5" y1="338.8" x2="898.5" y2="338.8" stroke="#7a7e8a" stroke-width="0.9"/>
<text x="901.5" y="341.8" textLength="25.5" lengthAdjust="spacingAndGlyphs">1.09300</text>
<line x1="895.5" y1="361.0" x2="898.5" y2="361.0" stroke="#7a7e8a" stroke-width="0.9"/>
<text x="901.5" y="364.0" textLength="25.5" lengthAdjust="spacingAndGlyphs">1.09200</text>
<line x1="895.5" y1="383.3" x2="898.5" y2="383.3" stroke="#7a7e8a" stroke-width="0.9"/>
<text x="901.5" y="386.3" textLength="25.5" lengthAdjust="spacingAndGlyphs">1.09100</text>
<line x1="895.5" y1="405.5" x2="898.5" y2="405.5" stroke="#7a7e8a" stroke-width="0.9"/>
<text x="901.5" y="408.5" textLength="25.5" lengthAdjust="spacingAndGlyphs">1.09000</text>
<line x1="895.5" y1="427.8" x2="898.5" y2="427.8" stroke="#7a7e8a" stroke-width="0.9"/>
<text x="901.5" y="430.8" textLength="25.5" lengthAdjust="spacingAndGlyphs">1.08900</text>
<line x1="895.5" y1="450.1" x2="898.5" y2="450.1" stroke="#7a7e8a" stroke-width="0.9"/>
<text x="901.5" y="453.1" textLength="25.5" lengthAdjust="spacingAndGlyphs">1.08800</text>
<line x1="895.5" y1="472.5" x2="898.5" y2="472.5" stroke="#7a7e8a" stroke-width="0.9"/>
<text x="901.5" y="475.5" textLength="25.5" lengthAdjust="spacingAndGlyphs">1.08700</text>
<line x1="895.5" y1="494.8" x2="898.5" y2="494.8" stroke="#7a7e8a" stroke-width="0.9"/>
<text x="901.5" y="497.8" textLength="25.5" lengthAdjust="spacingAndGlyphs">1.08600</text>
<line x1="895.5" y1="517.2" x2="898.5" y2="517.2" stroke="#7a7e8a" stroke-width="0.9"/>
<text x="901.5" y="520.2" textLength="25.5" lengthAdjust="spacingAndGlyphs">1.08500</text>
</g>
<g font-size="9.4" fill="#4e5262">
<line x1="46.6" y1="531.5" x2="46.6" y2="534.1" stroke="#7a7e8a" stroke-width="0.9"/>
<text x="43.2" y="544.7" textLength="6.7" lengthAdjust="spacingAndGlyphs">14</text>
<line x1="98.5" y1="531.5" x2="98.5" y2="534.1" stroke="#7a7e8a" stroke-width="0.9"/>
<text x="89.8" y="544.7" textLength="17.4" lengthAdjust="spacingAndGlyphs">14:00</text>
<line x1="157.3" y1="531.5" x2="157.3" y2="534.1" stroke="#7a7e8a" stroke-width="0.9"/>
<text x="153.7" y="544.7" textLength="7.2" lengthAdjust="spacingAndGlyphs">21</text>
<line x1="209.2" y1="531.5" x2="209.2" y2="534.1" stroke="#7a7e8a" stroke-width="0.9"/>
<text x="200.5" y="544.7" textLength="17.4" lengthAdjust="spacingAndGlyphs">14:00</text>
<line x1="268.4" y1="531.5" x2="268.4" y2="534.1" stroke="#7a7e8a" stroke-width="0.9"/>
<text x="264.8" y="544.7" textLength="7.2" lengthAdjust="spacingAndGlyphs">28</text>
<line x1="353.2" y1="531.5" x2="353.2" y2="534.1" stroke="#7a7e8a" stroke-width="0.9"/>
<text x="347.0" y="544.7" font-weight="bold" textLength="12.4" lengthAdjust="spacingAndGlyphs">Nov</text>
<line x1="419.1" y1="531.5" x2="419.1" y2="534.1" stroke="#7a7e8a" stroke-width="0.9"/>
<text x="417.4" y="544.7" textLength="3.5" lengthAdjust="spacingAndGlyphs">6</text>
<line x1="489.6" y1="531.5" x2="489.6" y2="534.1" stroke="#7a7e8a" stroke-width="0.9"/>
<text x="486.3" y="544.7" textLength="6.6" lengthAdjust="spacingAndGlyphs">11</text>
<line x1="541.5" y1="531.5" x2="541.5" y2="534.1" stroke="#7a7e8a" stroke-width="0.9"/>
<text x="532.9" y="544.7" textLength="17.2" lengthAdjust="spacingAndGlyphs">15:00</text>
<line x1="600.4" y1="531.5" x2="600.4" y2="534.1" stroke="#7a7e8a" stroke-width="0.9"/>
<text x="596.9" y="544.7" textLength="6.9" lengthAdjust="spacingAndGlyphs">18</text>
<line x1="652.5" y1="531.5" x2="652.5" y2="534.1" stroke="#7a7e8a" stroke-width="0.9"/>
<text x="643.9" y="544.7" textLength="17.2" lengthAdjust="spacingAndGlyphs">15:00</text>
<line x1="711.4" y1="531.5" x2="711.4" y2="534.1" stroke="#7a7e8a" stroke-width="0.9"/>
<text x="707.8" y="544.7" textLength="7.2" lengthAdjust="spacingAndGlyphs">25</text>
<line x1="763.3" y1="531.5" x2="763.3" y2="534.1" stroke="#7a7e8a" stroke-width="0.9"/>
<text x="754.7" y="544.7" textLength="17.2" lengthAdjust="spacingAndGlyphs">15:00</text>
<line x1="822.2" y1="531.5" x2="822.2" y2="534.1" stroke="#7a7e8a" stroke-width="0.9"/>
<text x="815.7" y="544.7" font-weight="bold" textLength="13.0" lengthAdjust="spacingAndGlyphs">Dec</text>
<line x1="874.4" y1="531.5" x2="874.4" y2="534.1" stroke="#7a7e8a" stroke-width="0.9"/>
<text x="865.8" y="544.7" textLength="17.2" lengthAdjust="spacingAndGlyphs">15:00</text>
</g>
<rect x="895.5" y="45" width="36.5" height="12" fill="#0606f8"/>
<line x1="895.5" y1="51.3" x2="898.5" y2="51.3" stroke="#fff" stroke-width="1"/>
<text x="901.5" y="54.1" font-size="9.4" font-weight="bold" fill="#fff" textLength="25.5" lengthAdjust="spacingAndGlyphs">1.10600</text>
<rect x="895.5" y="185.8" width="36.5" height="12" fill="#26a69a"/>
<rect x="895.5" y="198.8" width="36.5" height="11.6" fill="#26a69a"/>
<line x1="895.5" y1="192" x2="898.5" y2="192" stroke="#fff" stroke-width="1"/>
<text x="901.5" y="194.7" font-size="9.4" font-weight="bold" fill="#fff" textLength="25" lengthAdjust="spacingAndGlyphs">1.09961</text>
<text x="898.7" y="207.3" font-size="9.4" font-weight="bold" fill="#fff" textLength="27.7" lengthAdjust="spacingAndGlyphs">03:46:11</text>
</svg></body></html>
